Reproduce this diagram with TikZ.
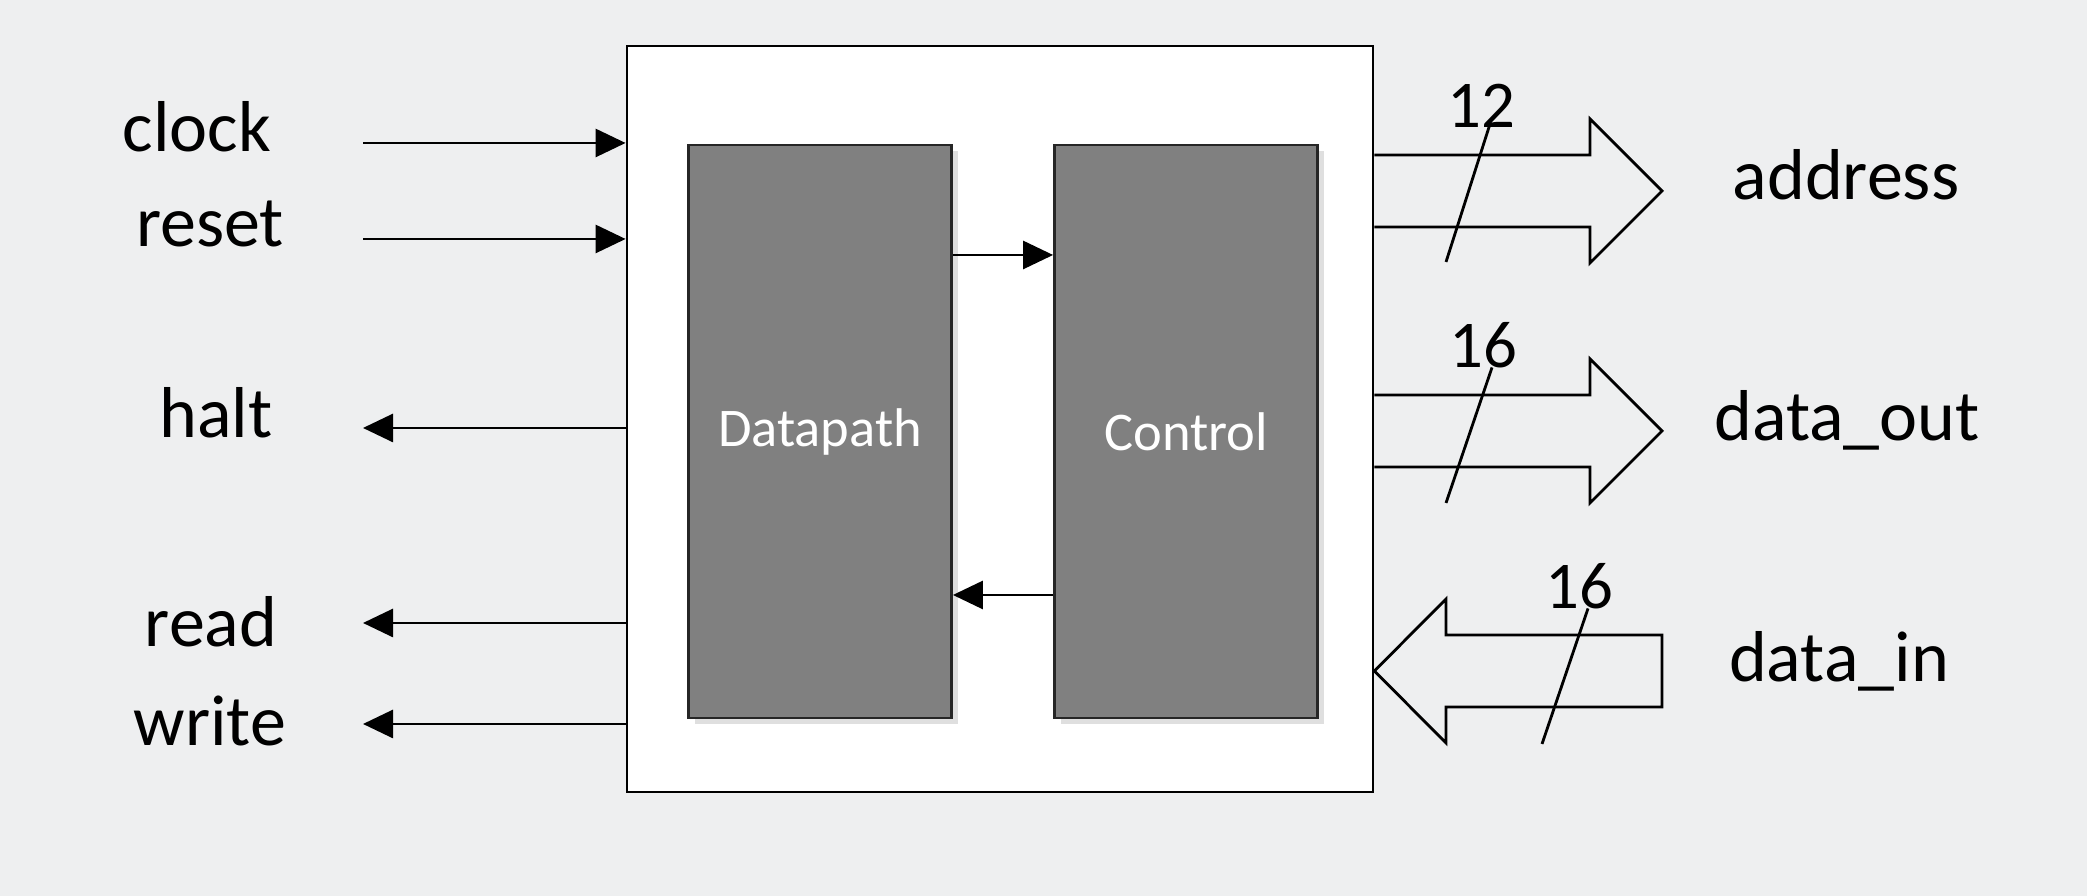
\documentclass[tikz,border=0pt]{standalone}
\usepackage{fontspec}
\setmainfont{Carlito}
\usetikzlibrary{arrows.meta,positioning,shadows}
\definecolor{slidebg}{RGB}{238,239,240}
\definecolor{blockgray}{RGB}{128,128,128}

\begin{document}
\begin{tikzpicture}[x=1cm,y=1cm]
\tikzset{
  chipbox/.style={rectangle,draw=black,fill=white,line width=0.8pt,inner sep=0pt},
  blockbox/.style={rectangle,draw=black!85,fill=blockgray,line width=0.8pt,inner sep=0pt,
    minimum width=2.63cm,minimum height=5.73cm,text=white,font=\fontsize{15.5}{18}\selectfont,
    drop shadow={shadow xshift=0.6mm,shadow yshift=-0.6mm,opacity=0.25}},
  portlabel/.style={anchor=base,inner sep=0pt,font=\fontsize{20.5}{24}\selectfont},
  buswidth/.style={anchor=base,inner sep=0pt,font=\fontsize{19}{22}\selectfont},
  wire/.style={draw=black,line width=0.8pt},
  signal/.style={wire,-{Triangle[length=3mm,width=2.8mm]}},
  busarrow/.style={wire,line join=miter}
}
\fill[slidebg] (0,0) rectangle (20.87,8.96);
\useasboundingbox (0,0) rectangle (20.87,8.96);

% the processor and its two parts
\node[chipbox,minimum width=7.46cm,minimum height=7.46cm] (n_chip) at (10.00,4.77) {};
\node[blockbox] (n_dpath) at (8.20,4.645) {Datapath};
\node[blockbox] (n_ctrl) at (11.86,4.645) {Control};
\draw[signal] (n_dpath.east |- 0,6.41) -- (n_ctrl.west |- 0,6.41);
\draw[signal] (n_ctrl.west |- 0,3.01) -- (n_dpath.east |- 0,3.01);

% single signals
\node[portlabel] (n_clock) at (1.97,7.44) {clock};
\node[portlabel] (n_reset) at (2.10,6.49) {reset};
\node[portlabel] (n_halt) at (2.16,4.58) {halt};
\node[portlabel] (n_read) at (2.11,2.49) {read};
\node[portlabel] (n_write) at (2.10,1.50) {write};
\coordinate (c_clock) at (3.63,7.53);
\coordinate (c_reset) at (3.63,6.57);
\coordinate (c_halt) at (3.63,4.68);
\coordinate (c_read) at (3.63,2.73);
\coordinate (c_write) at (3.63,1.72);
\draw[signal] (c_clock) -- (c_clock -| n_chip.west);
\draw[signal] (c_reset) -- (c_reset -| n_chip.west);
\draw[signal] (c_halt -| n_chip.west) -- (c_halt);
\draw[signal] (c_read -| n_chip.west) -- (c_read);
\draw[signal] (c_write -| n_chip.west) -- (c_write);

% buses
\draw[busarrow] (n_chip.east |- 0,7.41) -- (15.90,7.41) -- (15.90,7.77) -- (16.62,7.05)
  -- (15.90,6.33) -- (15.90,6.69) -- (n_chip.east |- 0,6.69);
\draw[busarrow] (n_chip.east |- 0,5.01) -- (15.90,5.01) -- (15.90,5.37) -- (16.62,4.65)
  -- (15.90,3.93) -- (15.90,4.29) -- (n_chip.east |- 0,4.29);
\draw[busarrow] (16.62,2.61) -- (14.46,2.61) -- (14.46,2.97) -- (n_chip.east |- 0,2.25)
  -- (14.46,1.53) -- (14.46,1.89) -- (16.62,1.89) -- cycle;
\node[buswidth] (n_w_addr) at (14.81,7.68) {12};
\node[buswidth] (n_w_dout) at (14.83,5.285) {16};
\node[buswidth] (n_w_din) at (15.79,2.875) {16};
\draw[wire] (14.90,7.72) -- (14.46,6.34);
\draw[wire] (14.92,5.285) -- (14.46,3.93);
\draw[wire] (15.88,2.875) -- (15.42,1.52);
\node[portlabel] (n_addr) at (18.46,6.96) {address};
\node[portlabel] (n_dout) at (18.47,4.55) {data\_out};
\node[portlabel] (n_din) at (18.39,2.14) {data\_in};
\end{tikzpicture}
\end{document}
